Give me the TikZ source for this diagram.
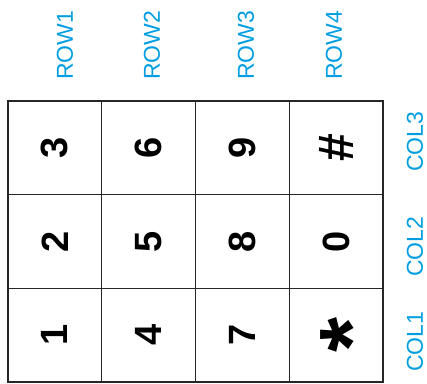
\documentclass[tikz,border=0pt]{standalone}
\usepackage{fontspec}
\setmainfont{Liberation Sans}
\usepackage{graphicx}
\usetikzlibrary{positioning}
\definecolor{pinblue}{RGB}{0, 158, 224}
\definecolor{gridline}{RGB}{38, 38, 38}
\newcommand{\keyglyph}[1]{\rotatebox{90}{#1}}
\tikzset{
  keycell/.style={
    rectangle, draw=gridline, line width=1.2pt, outer sep=0pt, inner sep=0pt,
    minimum width=93.75pt, minimum height=93.7pt,
    font=\fontsize{38}{38}\selectfont\bfseries
  },
  pinlabel/.style={
    rotate=90, anchor=west, inner sep=0pt, text=pinblue,
    font=\fontsize{23}{23}\selectfont
  },
  keyframe/.style={draw=gridline, line width=2.5pt}
}

\begin{document}
\begin{tikzpicture}[x=1pt, y=-1pt]
  \useasboundingbox (0,0) rectangle (427,383);

  % Column 1
  \node[keycell] (k3) at (54.9,147.8) {\keyglyph{3}};
  \node[keycell, below=0pt of k3] (k2) {\keyglyph{2}};
  \node[keycell, below=0pt of k2] (k1) {\keyglyph{1}};

  % Column 2
  \node[keycell, right=0pt of k3] (k6) {\keyglyph{6}};
  \node[keycell, below=0pt of k6] (k5) {\keyglyph{5}};
  \node[keycell, below=0pt of k5] (k4) {\keyglyph{4}};

  % Column 3
  \node[keycell, right=0pt of k6] (k9) {\keyglyph{9}};
  \node[keycell, below=0pt of k9] (k8) {\keyglyph{8}};
  \node[keycell, below=0pt of k8] (k7) {\keyglyph{7}};

  % Column 4
  \node[keycell, right=0pt of k9, font=\fontsize{50}{50}\selectfont\bfseries] (khash) {\keyglyph{\#}};
  \node[keycell, below=0pt of khash] (k0) {\keyglyph{0}};
  \node[keycell, below=0pt of k0, font=\fontsize{90}{90}\selectfont\bfseries] (kstar) {\keyglyph{\raisebox{-0.32em}[0.40em][0pt]{*}}};

  % Outer frame
  \draw[keyframe] (k3.north west) rectangle (kstar.south east);

  % Row and column pins
  \node[pinlabel] (row1) at (65,80) {ROW1};
  \node[pinlabel] (row2) at (152,80) {ROW2};
  \node[pinlabel] (row3) at (246,80) {ROW3};
  \node[pinlabel] (row4) at (334,80) {ROW4};

  \node[pinlabel] (col3) at (415,172) {COL3};
  \node[pinlabel] (col2) at (415,277) {COL2};
  \node[pinlabel] (col1) at (415,372) {COL1};

\end{tikzpicture}
\end{document}
